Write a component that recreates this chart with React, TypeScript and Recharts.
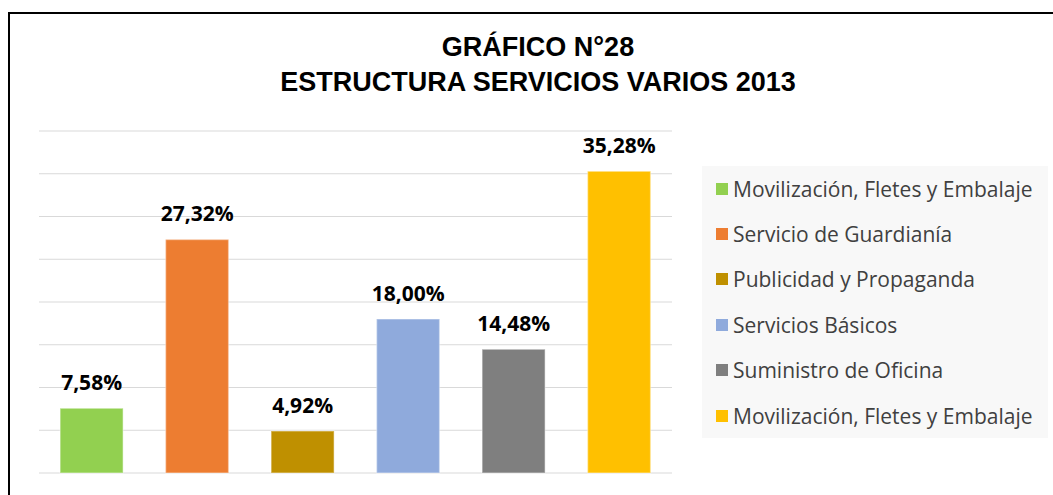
import React from "react";
import { BarChart, Bar, XAxis, YAxis, CartesianGrid, Cell, LabelList, Legend } from "recharts";

const categories = [
  "Movilización, Fletes y Embalaje",
  "Servicio de Guardianía",
  "Publicidad y Propaganda",
  "Servicios Básicos",
  "Suministro de Oficina",
  "Movilización, Fletes y Embalaje ",
];
const shares = [7.58, 27.32, 4.92, 18.0, 14.48, 35.28];
const colors = ["#92d050", "#ed7d31", "#bf9000", "#8faadc", "#7f7f7f", "#ffc000"];
const yTicks = [0, 5, 10, 15, 20, 25, 30, 35, 40];

const data = categories.map((name, i) => ({ name, value: shares[i] }));

const fmt = (v: unknown) => `${Number(v).toFixed(2).replace(".", ",")}%`;

function LegendBox() {
  return (
    <div
      style={{
        width: 346,
        height: 272,
        background: "#f8f8f8",
        fontFamily: "'Open Sans', sans-serif",
        fontSize: 21,
        color: "#404040",
      }}
    >
      {categories.map((c, i) => (
        <div
          key={i}
          style={{ height: 45.4, display: "flex", alignItems: "center", paddingLeft: 14, whiteSpace: "nowrap" }}
        >
          <span style={{ width: 12, height: 12, background: colors[i], marginRight: 5, flex: "none" }} />
          <span style={{ lineHeight: "24px" }}>{c.trim()}</span>
        </div>
      ))}
    </div>
  );
}

export default function App() {
  return (
    <div
      style={{
        position: "absolute",
        left: 0,
        top: 0,
        width: 1053,
        height: 495,
        background: "#fff",
        overflow: "hidden",
      }}
    >
      <div
        style={{
          position: "absolute",
          left: 8,
          top: 12,
          width: 1100,
          height: 600,
          borderTop: "2px solid #000",
          borderLeft: "2px solid #000",
        }}
      />
      <div
        style={{
          position: "absolute",
          left: 0,
          top: 30,
          width: 1076,
          textAlign: "center",
          fontFamily: "'Liberation Sans', Arial, sans-serif",
          fontWeight: 700,
          fontSize: 27,
          lineHeight: "35px",
          color: "#000",
        }}
      >
        GRÁFICO N°28
        <br />
        ESTRUCTURA SERVICIOS VARIOS 2013
      </div>
      <div style={{ position: "absolute", left: 0, top: 0 }}>
        <BarChart
          width={1053}
          height={495}
          data={data}
          margin={{ top: 131, right: 381, bottom: 22, left: 39 }}
          barCategoryGap="20%"
        >
          <CartesianGrid vertical={false} stroke="#d9d9d9" strokeWidth={1} />
          <YAxis hide domain={[0, 40]} ticks={yTicks} />
          <XAxis
            dataKey="name"
            tick={false}
            tickLine={false}
            height={0}
            axisLine={{ stroke: "#bfbfbf", strokeWidth: 1.5 }}
          />
          <Legend
            layout="vertical"
            align="center"
            verticalAlign="middle"
            content={() => <LegendBox />}
            wrapperStyle={{ position: "absolute", left: 702, top: 166, width: 346, height: 272 }}
          />
          <Bar dataKey="value" isAnimationActive={false} stroke="rgba(255,255,255,0.35)" strokeWidth={1.5}>
            {data.map((d, i) => (
              <Cell key={i} fill={colors[i]} />
            ))}
            <LabelList
              dataKey="value"
              position="top"
              offset={18}
              formatter={fmt}
              style={{ fontFamily: "'Open Sans', sans-serif", fontWeight: 700, fontSize: 21, fill: "#000" }}
            />
          </Bar>
        </BarChart>
      </div>
    </div>
  );
}
